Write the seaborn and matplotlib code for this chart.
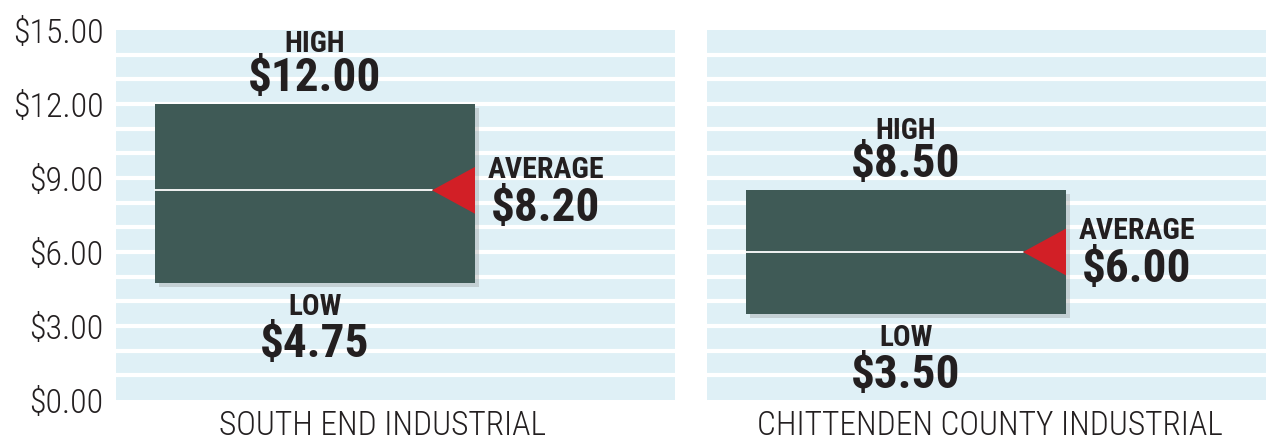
import numpy as np
import pandas as pd
import matplotlib
matplotlib.use("Agg")
import matplotlib.pyplot as plt
import matplotlib.patheffects as pe
from matplotlib.patches import Polygon
from matplotlib import font_manager
import seaborn as sns

# ---- data ----
categories = ["SOUTH END INDUSTRIAL", "CHITTENDEN COUNTY INDUSTRIAL"]
low = [4.75, 3.50]
high = [12.00, 8.50]
average = [8.20, 6.00]
avg_marker = [8.5, 6.0]   # where the average marker is drawn in the graphic
yticks = [0, 3, 6, 9, 12, 15]
ytick_labels = ["$0.00", "$3.00", "$6.00", "$9.00", "$12.00", "$15.00"]

sns.set_theme(style="white")
names = {f.name for f in font_manager.fontManager.ttflist}
cond = None
for cand in ["Roboto Condensed", "Barlow Condensed", "Archivo Narrow", "Asap Condensed"]:
    if cand in names:
        cond = cand
        break
fam = [cond, "DejaVu Sans"] if cond else ["DejaVu Sans"]
plt.rcParams["font.family"] = fam

BG = "#dff0f6"
BAR = "#3f5a56"
RED = "#d21f26"
TXT = "#231f20"
LIGHT = "#231f20"

W, H = 1268, 445
fig = plt.figure(figsize=(W / 100, H / 100), dpi=100)
panels = [(116, 675), (707, 1266)]
label_centers = [0.476, 0.506]
top_px, bot_px = 30, 400

df = pd.DataFrame({"cat": categories, "low": low, "high": high})
df["span"] = df["high"] - df["low"]

for i, (x0, x1) in enumerate(panels):
    ax = fig.add_axes([x0 / W, (H - bot_px) / H, (x1 - x0) / W, (bot_px - top_px) / H])
    ax.set_facecolor(BG)
    for v in range(1, 15):
        ax.axhline(v, color="white", lw=3.0, zorder=1)
    sns.barplot(data=df.iloc[[i]], x="cat", y="span", bottom=df["low"][i],
                color=BAR, saturation=1, width=0.8, ax=ax, zorder=3)
    for p in ax.patches:
        p.set_path_effects([pe.SimplePatchShadow(offset=(3, -3), shadow_rgbFace="#888888", alpha=0.3),
                            pe.Normal()])
        p.set_edgecolor("none")
    xl = -0.4975
    xr = xl + (x1 - x0) / 400
    ax.set_xlim(xl, xr)
    ax.set_ylim(0, 15)
    bar_r = 0.4
    tip = bar_r - 43 / 400
    a = avg_marker[i]
    ax.plot([-0.4, tip], [a, a], color="white", lw=1.3, zorder=4)
    tri = Polygon([[bar_r, a - 0.95], [bar_r, a + 0.95], [tip, a]], closed=True,
                  facecolor=RED, edgecolor="none", zorder=5)
    ax.add_patch(tri)

    for s in ax.spines.values():
        s.set_visible(False)
    ax.set_xticks([])
    ax.set_xlabel("")
    ax.set_ylabel("")
    if i == 0:
        ax.set_yticks(yticks)
        ax.set_yticklabels(ytick_labels, fontsize=24.5, color=LIGHT, fontweight="light")
        ax.tick_params(axis="y", length=0, pad=9)
    else:
        ax.set_yticks([])

    bold = dict(fontweight="bold", color=TXT, ha="center", va="center")
    ax.annotate("HIGH", (0, high[i]), xytext=(0, 43), textcoords="offset points", fontsize=21, **bold)
    ax.annotate(f"${high[i]:.2f}", (0, high[i]), xytext=(0, 19), textcoords="offset points", fontsize=34, **bold)
    ax.annotate("LOW", (0, low[i]), xytext=(0, -17.5), textcoords="offset points", fontsize=21, **bold)
    ax.annotate(f"${low[i]:.2f}", (0, low[i]), xytext=(0, -44), textcoords="offset points", fontsize=34, **bold)
    ax.annotate("AVERAGE", (bar_r, a), xytext=(51, 15), textcoords="offset points", fontsize=21.5, **bold)
    ax.annotate(f"${average[i]:.2f}", (bar_r, a), xytext=(51, -12.5), textcoords="offset points", fontsize=34, **bold)

    ax.text(label_centers[i], -0.07, categories[i], transform=ax.transAxes, ha="center", va="center",
            fontsize=24, color=LIGHT, fontweight="light")

fig.savefig("out.png", dpi=100)
